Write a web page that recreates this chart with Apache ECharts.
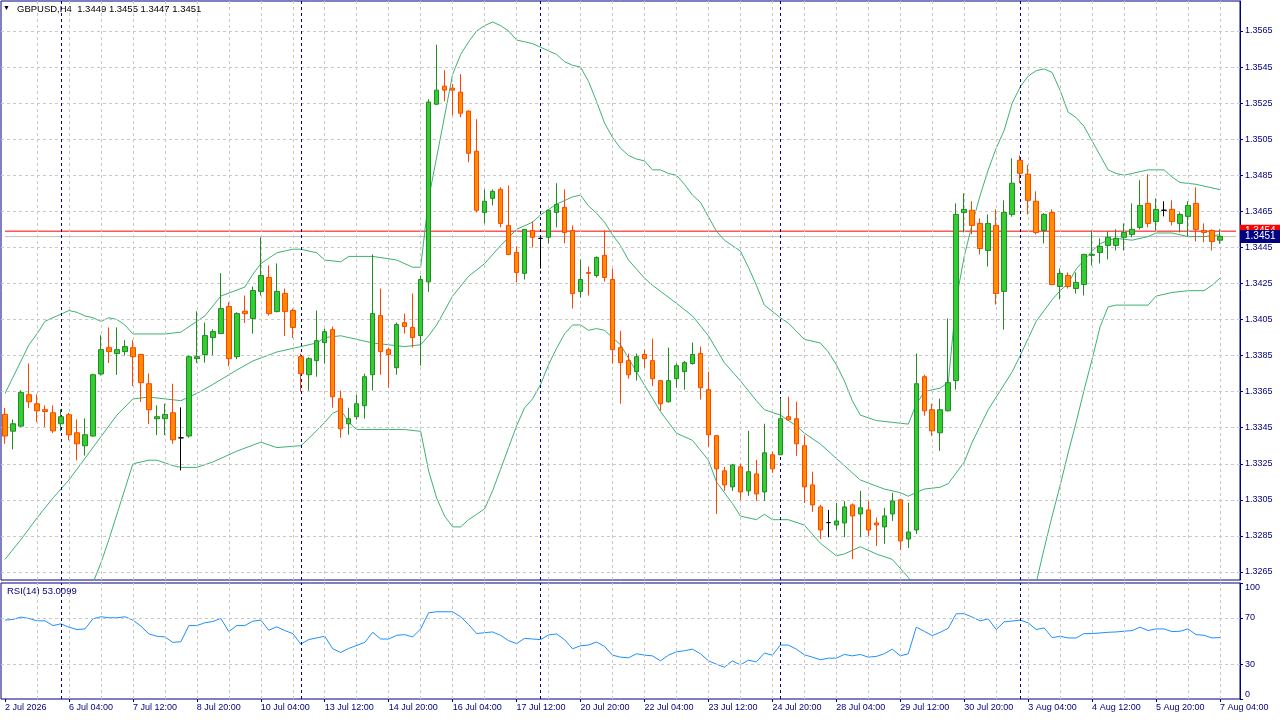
<!DOCTYPE html>
<html>
<head>
<meta charset="utf-8">
<title>GBPUSD,H4</title>
<script src="https://cdn.jsdelivr.net/npm/echarts@6.0.0/dist/echarts.min.js"></script>
<style>
html, body { margin: 0; padding: 0; background: #fff; }
#chart { width: 1280px; height: 720px; }
</style>
</head>
<body>
<div id="chart"></div>
<script>
// GBPUSD H4 bars, 2 Jul 20:00 .. 7 Aug 04:00 (153 bars)
var open = [
1.33524,1.33431,1.33459,1.33633,1.33583,1.33550,1.33533,1.33472,1.33522,1.33422,
1.33350,1.33404,1.33748,1.33894,1.33861,1.33872,1.33894,1.33856,1.33694,1.33500,
1.33500,1.33533,1.33394,1.33404,1.33833,1.33856,1.33950,1.33972,1.34122,1.33844,
1.34096,1.34056,1.34206,1.34283,1.34094,1.34194,1.34100,1.33844,1.33744,1.33822,
1.33922,1.33994,1.33611,1.33472,1.33511,1.33572,1.33744,1.34072,1.33883,1.33783,
1.34033,1.34006,1.33961,1.34259,1.35244,1.35344,1.35333,1.35311,1.35206,1.34983,
1.34644,1.34722,1.34772,1.34572,1.34422,1.34306,1.34544,1.34500,1.34506,1.34644,
1.34672,1.34544,1.34206,1.34311,1.34294,1.34406,1.34272,1.33894,1.33822,1.33761,
1.33856,1.33822,1.33711,1.33594,1.33722,1.33761,1.33806,1.33861,1.33661,1.33406,
1.33211,1.33122,1.33233,1.33100,1.33194,1.33094,1.33300,1.33300,1.33511,1.33500,
1.33350,1.33133,1.33011,1.32924,1.32911,1.32922,1.33022,1.32972,1.32994,1.32922,
1.32900,1.32972,1.33050,1.32833,1.32883,1.33733,1.33550,1.33422,1.33544,1.33711,
1.34644,1.34656,1.34583,1.34433,1.34572,1.34206,1.34633,1.34933,1.34856,1.34706,
1.34544,1.34644,1.34233,1.34294,1.34222,1.34244,1.34406,1.34422,1.34461,1.34461,
1.34506,1.34522,1.34561,1.34694,1.34594,1.34656,1.34661,1.34583,1.34622,1.34694,
1.34544,1.34544,1.34490
];
var high = [
1.33560,1.33496,1.33657,1.33806,1.33635,1.33574,1.33574,1.33552,1.33533,1.33496,
1.33502,1.33750,1.33963,1.34006,1.34006,1.33935,1.33935,1.33860,1.33750,1.33574,
1.33583,1.33694,1.33563,1.33850,1.34096,1.34033,1.33996,1.34307,1.34146,1.34090,
1.34183,1.34233,1.34506,1.34350,1.34361,1.34222,1.34111,1.33861,1.33840,1.34100,
1.34000,1.34011,1.33656,1.33561,1.33633,1.33750,1.34411,1.34222,1.33894,1.34033,
1.34083,1.34194,1.34294,1.35272,1.35574,1.35433,1.35356,1.35411,1.35210,1.35161,
1.34772,1.34772,1.34783,1.34794,1.34456,1.34552,1.34594,1.34506,1.34660,1.34806,
1.34772,1.34572,1.34383,1.34344,1.34400,1.34544,1.34333,1.33987,1.33861,1.33861,
1.33883,1.33944,1.33715,1.33894,1.33806,1.33820,1.33922,1.33900,1.33761,1.33410,
1.33233,1.33250,1.33250,1.33433,1.33272,1.33472,1.33317,1.33611,1.33622,1.33594,
1.33406,1.33206,1.33022,1.32994,1.33033,1.33044,1.33030,1.33100,1.33044,1.32952,
1.33006,1.33089,1.33055,1.33033,1.33861,1.33744,1.33583,1.33611,1.34056,1.34694,
1.34750,1.34706,1.34611,1.34633,1.34661,1.34711,1.34944,1.34960,1.34906,1.34761,
1.34640,1.34661,1.34333,1.34311,1.34311,1.34415,1.34544,1.34500,1.34539,1.34550,
1.34583,1.34694,1.34822,1.34856,1.34722,1.34706,1.34711,1.34644,1.34706,1.34783,
1.34583,1.34550,1.34550
];
var low = [
1.33361,1.33330,1.33454,1.33559,1.33481,1.33454,1.33420,1.33431,1.33380,1.33269,
1.33296,1.33400,1.33740,1.33809,1.33743,1.33850,1.33681,1.33593,1.33470,1.33409,
1.33409,1.33361,1.33213,1.33394,1.33809,1.33811,1.33852,1.33970,1.33791,1.33830,
1.34031,1.33972,1.34183,1.34072,1.34090,1.33959,1.33948,1.33650,1.33656,1.33733,
1.33806,1.33561,1.33394,1.33411,1.33494,1.33500,1.33656,1.33744,1.33672,1.33744,
1.33972,1.33894,1.33794,1.34204,1.35240,1.35261,1.35183,1.35172,1.34922,1.34644,
1.34583,1.34683,1.34561,1.34410,1.34256,1.34272,1.34450,1.34333,1.34472,1.34561,
1.34472,1.34111,1.34172,1.34183,1.34283,1.34261,1.33806,1.33583,1.33722,1.33711,
1.33783,1.33681,1.33544,1.33590,1.33672,1.33661,1.33800,1.33606,1.33344,1.32972,
1.33100,1.33100,1.33050,1.33072,1.33044,1.33044,1.33200,1.33300,1.33489,1.33294,
1.33033,1.32983,1.32833,1.32843,1.32883,1.32843,1.32722,1.32843,1.32850,1.32794,
1.32806,1.32933,1.32772,1.32783,1.32861,1.33517,1.33406,1.33322,1.33540,1.33661,
1.34533,1.34522,1.34411,1.34344,1.34133,1.33994,1.34620,1.34806,1.34633,1.34522,
1.34472,1.34240,1.34161,1.34222,1.34194,1.34183,1.34350,1.34361,1.34383,1.34433,
1.34433,1.34506,1.34550,1.34561,1.34544,1.34622,1.34572,1.34533,1.34511,1.34483,
1.34478,1.34433,1.34470
];
var close = [
1.33404,1.33472,1.33646,1.33594,1.33544,1.33540,1.33433,1.33511,1.33411,1.33361,
1.33411,1.33744,1.33883,1.33872,1.33883,1.33900,1.33844,1.33700,1.33550,1.33511,
1.33524,1.33383,1.33394,1.33844,1.33844,1.33961,1.33983,1.34111,1.33833,1.34083,
1.34083,1.34211,1.34294,1.34083,1.34206,1.34094,1.34006,1.33750,1.33833,1.33933,
1.33983,1.33622,1.33444,1.33500,1.33583,1.33733,1.34083,1.33872,1.33856,1.34022,
1.34011,1.33950,1.34272,1.35256,1.35322,1.35322,1.35322,1.35194,1.34972,1.34656,
1.34706,1.34761,1.34583,1.34411,1.34311,1.34550,1.34506,1.34500,1.34656,1.34689,
1.34533,1.34194,1.34272,1.34306,1.34394,1.34283,1.33883,1.33811,1.33744,1.33844,
1.33833,1.33722,1.33583,1.33711,1.33794,1.33811,1.33856,1.33672,1.33411,1.33222,
1.33133,1.33244,1.33094,1.33206,1.33083,1.33311,1.33222,1.33500,1.33494,1.33361,
1.33122,1.33022,1.32883,1.32924,1.32933,1.33011,1.32961,1.33006,1.32883,1.32911,
1.32961,1.33044,1.32822,1.32872,1.33694,1.33544,1.33433,1.33550,1.33700,1.34633,
1.34661,1.34572,1.34444,1.34583,1.34194,1.34644,1.34806,1.34861,1.34711,1.34533,
1.34633,1.34244,1.34306,1.34233,1.34256,1.34411,1.34411,1.34456,1.34506,1.34500,
1.34533,1.34550,1.34683,1.34583,1.34661,1.34656,1.34594,1.34633,1.34683,1.34550,
1.34533,1.34483,1.34510
];

// Bollinger(20,2): [bar index, price]
var bbUpper = [[0,1.3364],[1,1.3373],[2,1.3382],[3,1.3391],[4,1.3397],[5,1.3404],[6,1.3406],[7,1.3408],[8,1.3410],[9,1.3409],[10,1.3407],[11,1.3406],[12,1.3404],[13,1.3406],[14,1.3405],[15,1.3402],[16,1.3397],[18,1.3397],[20,1.3397],[22,1.3398],[23,1.3401],[24,1.3404],[25,1.3407],[27,1.3418],[30,1.3423],[31,1.3430],[32,1.3436],[33,1.3439],[34,1.3442],[36,1.3444],[37,1.3444],[39,1.3442],[40,1.3438],[42,1.3437],[43,1.3440],[46,1.3440],[49,1.3438],[51,1.3434],[52,1.3434],[53,1.3472],[54,1.3495],[55,1.3518],[56,1.3541],[57,1.3552],[58,1.3559],[59,1.3565],[60,1.3568],[61,1.3570],[62,1.3568],[63,1.3565],[64,1.3560],[65,1.3559],[66,1.3558],[67,1.3556],[68,1.3554],[69,1.3552],[70,1.3548],[71,1.3546],[72,1.3545],[73,1.3537],[74,1.3526],[75,1.3514],[76,1.3506],[77,1.3500],[78,1.3496],[79,1.3494],[80,1.3493],[81,1.3488],[82,1.3488],[83,1.3486],[84,1.3485],[85,1.3480],[86,1.3474],[87,1.3470],[88,1.3462],[89,1.3454],[90,1.3449],[92,1.3443],[93,1.3434],[94,1.3424],[95,1.3413],[97,1.3406],[98,1.3403],[100,1.3394],[102,1.3392],[103,1.3387],[104,1.3380],[105,1.3371],[106,1.3360],[107,1.3352],[109,1.3349],[111,1.3348],[113,1.3347],[114,1.3358],[115,1.3365],[117,1.3367],[118,1.3370],[119,1.3416],[120,1.3440],[121,1.3458],[122,1.3474],[123,1.3488],[124,1.3500],[125,1.3510],[126,1.3525],[127,1.3534],[128,1.3540],[129,1.3543],[130,1.3544],[131,1.3542],[132,1.3532],[133,1.3520],[134,1.3517],[135,1.3512],[136,1.3504],[137,1.3496],[138,1.3488],[139,1.3486],[140,1.3485],[141,1.3486],[142,1.3487],[143,1.3488],[145,1.3488],[146,1.3484],[147,1.3481],[149,1.3480],[152,1.3477]];
var bbMiddle = [[0,1.3272],[2,1.3283],[4,1.3295],[6,1.3306],[8,1.3316],[10,1.3328],[12,1.3340],[14,1.3352],[16,1.3361],[18,1.3362],[20,1.3361],[22,1.3360],[24,1.3364],[26,1.3369],[29,1.3377],[31,1.3382],[34,1.3387],[37,1.3390],[39,1.3392],[40,1.3395],[42,1.3396],[44,1.3394],[46,1.3392],[50,1.3390],[52,1.3391],[53,1.3396],[54,1.3402],[55,1.3410],[56,1.3418],[58,1.3429],[60,1.3436],[62,1.3446],[64,1.3455],[66,1.3459],[67,1.3463],[69,1.3469],[71,1.3473],[72,1.3474],[73,1.3468],[74,1.3464],[75,1.3459],[76,1.3452],[77,1.3446],[78,1.3438],[80,1.3428],[81,1.3424],[84,1.3414],[86,1.3407],[88,1.3396],[90,1.3381],[92,1.3371],[94,1.3360],[95,1.3355],[97,1.3352],[99,1.3346],[100,1.3342],[102,1.3336],[105,1.3324],[107,1.3316],[110,1.3311],[112,1.3309],[113,1.3307],[115,1.3311],[117,1.3312],[118,1.3314],[120,1.3326],[121,1.3337],[123,1.3355],[124,1.3362],[126,1.3376],[127,1.3385],[129,1.3404],[130,1.3410],[131,1.3416],[132,1.3421],[133,1.3425],[134,1.3433],[135,1.3438],[136,1.3443],[137,1.3447],[138,1.3449],[139,1.3450],[141,1.3449],[143,1.3451],[144,1.3453],[146,1.3453],[148,1.3451],[150,1.3451],[152,1.3452]];
var bbLower = [[11,1.3259],[12,1.3270],[13,1.3283],[14,1.3297],[15,1.3311],[16,1.3325],[18,1.3327],[19,1.3327],[21,1.3324],[22,1.3323],[24,1.3323],[26,1.3326],[29,1.3332],[32,1.3337],[34,1.3334],[37,1.3335],[38,1.3339],[40,1.3348],[41,1.3353],[42,1.3355],[43,1.3348],[44,1.3344],[47,1.3344],[50,1.3344],[52,1.3343],[53,1.3321],[54,1.3306],[55,1.3296],[56,1.3290],[57,1.3290],[58,1.3294],[59,1.3297],[60,1.3300],[61,1.3310],[62,1.3322],[63,1.3334],[64,1.3346],[65,1.3356],[66,1.3361],[67,1.3369],[68,1.3380],[69,1.3389],[70,1.3397],[71,1.3402],[72,1.3402],[73,1.3399],[74,1.3400],[75,1.3399],[76,1.3395],[77,1.3391],[79,1.3376],[82,1.3354],[84,1.3342],[86,1.3338],[88,1.3327],[89,1.3315],[91,1.3303],[92,1.3296],[94,1.3294],[95,1.3297],[96,1.3294],[98,1.3294],[100,1.3291],[102,1.3281],[104,1.3274],[105,1.3275],[107,1.3279],[109,1.3275],[111,1.3272],[113,1.3262],[114,1.3256],[120,null],[129,1.3259],[130,1.3278],[131,1.3296],[132,1.3313],[133,1.3331],[134,1.3348],[135,1.3366],[136,1.3383],[137,1.3401],[138,1.3412],[139,1.3413],[141,1.3413],[143,1.3413],[144,1.3418],[146,1.3420],[148,1.3421],[150,1.3421],[151,1.3424],[152,1.3428]];

// RSI(14): [bar index, value]
var rsi = [[0,68.0],[1,68.6],[2,70.6],[3,69.4],[4,67.4],[5,67.4],[6,63.3],[7,64.8],[8,61.9],[9,59.9],[10,60.4],[11,69.1],[12,70.9],[13,70.0],[14,70.0],[15,70.9],[16,68.0],[17,62.8],[18,56.1],[19,54.1],[20,53.5],[21,48.8],[22,49.4],[23,63.3],[24,63.3],[25,65.7],[26,66.8],[27,69.4],[28,58.1],[29,63.3],[30,63.3],[31,67.1],[32,68.0],[33,59.3],[34,62.2],[35,59.0],[36,56.4],[37,47.4],[38,51.2],[40,54.1],[41,43.3],[42,40.1],[43,43.6],[45,48.8],[46,57.5],[47,51.7],[48,51.7],[49,54.9],[50,55.5],[51,53.5],[52,60.4],[53,74.3],[54,75.2],[56,75.2],[57,70.9],[58,64.2],[59,56.4],[60,57.2],[61,57.8],[62,54.9],[63,50.3],[64,47.7],[65,52.3],[66,51.7],[67,51.2],[68,55.2],[69,56.1],[70,51.2],[71,43.3],[72,45.9],[73,46.5],[74,49.1],[75,45.4],[76,37.8],[77,36.1],[78,35.5],[79,39.0],[80,37.8],[81,37.2],[82,32.9],[83,37.8],[84,40.7],[85,41.6],[86,43.0],[87,39.0],[88,32.9],[89,30.0],[90,27.4],[91,32.9],[92,29.4],[93,33.5],[94,32.0],[95,39.6],[96,37.8],[97,46.5],[98,46.5],[99,43.0],[100,38.1],[101,36.1],[102,33.8],[103,35.2],[104,35.2],[105,38.4],[106,37.2],[107,38.4],[108,36.1],[109,36.7],[110,39.0],[111,43.0],[112,37.2],[113,39.0],[114,61.9],[115,58.4],[116,54.6],[117,57.5],[118,61.0],[119,73.5],[120,73.5],[121,70.6],[122,67.4],[123,69.1],[124,59.9],[125,66.5],[127,68.0],[128,65.7],[129,59.9],[130,61.3],[131,52.9],[132,54.1],[133,52.6],[134,52.6],[135,56.4],[136,56.4],[138,57.5],[139,57.8],[141,59.0],[142,61.9],[143,59.0],[144,60.4],[145,60.4],[146,58.1],[147,58.4],[148,60.4],[149,55.5],[150,54.9],[151,52.6],[152,53.0]];

var xTickLabels = ['2 Jul 2026','6 Jul 04:00','7 Jul 12:00','8 Jul 20:00','10 Jul 04:00','13 Jul 12:00','14 Jul 20:00','16 Jul 04:00','17 Jul 12:00','20 Jul 20:00','22 Jul 04:00','23 Jul 12:00','24 Jul 20:00','28 Jul 04:00','29 Jul 12:00','30 Jul 20:00','3 Aug 04:00','4 Aug 12:00','5 Aug 20:00','7 Aug 04:00'];
var priceTicks = [1.3265,1.3285,1.3305,1.3325,1.3345,1.3365,1.3385,1.3405,1.3425,1.3445,1.3465,1.3485,1.3505,1.3525,1.3545,1.3565];
var rsiTicks = [0, 30, 70, 100];
var rsiLevels = [30, 70];
var weekStarts = [7, 37, 67, 97, 127];   // period separators (Mon 00:00)
var askPrice = 1.3454;
var bidPrice = 1.3451;

var NAVY = '#000080';
var GRIDC = '#c8c8c8';
var FONT = 'Liberation Sans';

var nBars = close.length;
var categories = [];
for (var i = 0; i < nBars + 2; i++) categories.push(String(i));   // 2 empty slots on the right

var candles = close.map(function (c, i) { return [open[i], c, low[i], high[i]]; });

var vGrid = [];
for (var j = 4; j < nBars; j += 4) vGrid.push(j);

function vLines(list, style) {
        return list.map(function (k) { return { xAxis: k, lineStyle: style }; });
}
var dashGray = { color: GRIDC, type: [3, 3], width: 1 };
var dashNavy = { color: NAVY, type: [3, 3], width: 1 };

function tickShown(i) { return i % 8 === 0 && i < nBars; }

// horizontal price line across the whole chart with a boxed label on the price scale
function priceLine(name, price, lineColor, boxColor, z) {
        return {
                name: name, type: 'line', xAxisIndex: 0, yAxisIndex: 0, z: z, silent: true,
                data: [[0, price], [categories.length - 1, price]],
                symbol: 'none', color: lineColor,
                lineStyle: { color: lineColor, width: 1, type: 'solid' },
                endLabel: { show: true, formatter: price.toFixed(4), distance: 4,
                            color: '#fff', backgroundColor: boxColor, padding: [2, 5, 1, 5],
                            fontSize: 10, fontFamily: FONT }
        };
}

var last = nBars - 1;
var header = 'GBPUSD,H4  ' + [open[last], high[last], low[last], close[last]].map(function (v) { return v.toFixed(4); }).join(' ');

var chart = echarts.init(document.getElementById('chart'));

var option = {
        animation: false,
        backgroundColor: '#fff',
        textStyle: { fontFamily: FONT },
        grid: [
                { left: 1, right: 40, top: 1, height: 579, show: true, borderColor: NAVY, borderWidth: 1, backgroundColor: 'transparent' },
                { left: 1, right: 40, top: 583, height: 116, show: true, borderColor: NAVY, borderWidth: 1, backgroundColor: 'transparent' }
        ],
        xAxis: [
                { type: 'category', gridIndex: 0, data: categories, boundaryGap: true,
                  axisLine: { show: false }, axisTick: { show: false }, axisLabel: { show: false }, splitLine: { show: false } },
                { type: 'category', gridIndex: 1, data: categories, boundaryGap: true,
                  axisLine: { show: false },
                  axisTick: { show: true, alignWithLabel: true, interval: tickShown, length: 3, lineStyle: { color: NAVY } },
                  axisLabel: { interval: tickShown, formatter: function (v, i) { return xTickLabels[i / 8] || ''; },
                               align: 'left', color: NAVY, fontSize: 9, fontFamily: FONT, margin: 4 },
                  splitLine: { show: false } }
        ],
        yAxis: [
                { type: 'value', gridIndex: 0, position: 'right', min: 1.326056, max: 1.358164,
                  axisLine: { show: true, lineStyle: { color: NAVY } },
                  axisTick: { show: true, customValues: priceTicks, length: 3, lineStyle: { color: NAVY } },
                  axisLabel: { customValues: priceTicks, formatter: function (v) { return v.toFixed(4); },
                               color: NAVY, fontSize: 9, fontFamily: FONT, margin: 5 },
                  splitLine: { show: false } },
                { type: 'value', gridIndex: 1, position: 'right', min: 0, max: 100,
                  axisLine: { show: true, lineStyle: { color: NAVY } },
                  axisTick: { show: true, customValues: rsiTicks, length: 3, lineStyle: { color: NAVY } },
                  axisLabel: { customValues: rsiTicks, color: NAVY, fontSize: 9, fontFamily: FONT, margin: 5,
                               verticalAlignMaxLabel: 'top', verticalAlignMinLabel: 'bottom' },
                  splitLine: { show: false } }
        ],
        graphic: [
                { type: 'text', left: 3, top: 5, style: { text: '\u25BC', fontSize: 7, fill: '#000' } },
                { type: 'text', left: 17, top: 4, style: { text: header, fontSize: 9.5, fontFamily: FONT, fill: '#000' } },
                { type: 'text', left: 7, top: 586, style: { text: 'RSI(14) 53.0099', fontSize: 9.5, fontFamily: FONT, fill: NAVY } }
        ],
        series: [
                // price grid lines + period separators
                { type: 'line', xAxisIndex: 0, yAxisIndex: 0, data: [], z: 1, silent: true,
                  markLine: { silent: true, precision: 5, symbol: ['none', 'none'], label: { show: false },
                              lineStyle: dashGray,
                              data: priceTicks.map(function (v) { return { yAxis: v }; })
                                      .concat(vLines(vGrid, dashGray))
                                      .concat(vLines(weekStarts, dashNavy)) } },
                // ask (red) and bid (grey) lines
                priceLine('Ask', askPrice, '#ff0000', '#ff0000', 2),
                priceLine('Bid', bidPrice, '#c0c0c0', NAVY, 2),
                { name: 'BB upper', type: 'line', xAxisIndex: 0, yAxisIndex: 0, data: bbUpper, symbol: 'none', z: 3,
                  lineStyle: { color: '#3cb371', width: 1 }, silent: true },
                { name: 'BB middle', type: 'line', xAxisIndex: 0, yAxisIndex: 0, data: bbMiddle, symbol: 'none', z: 3,
                  lineStyle: { color: '#3cb371', width: 1 }, silent: true },
                { name: 'BB lower', type: 'line', xAxisIndex: 0, yAxisIndex: 0, data: bbLower, symbol: 'none', z: 3,
                  lineStyle: { color: '#3cb371', width: 1 }, silent: true },
                { name: 'GBPUSD', type: 'candlestick', xAxisIndex: 0, yAxisIndex: 0, data: candles, barWidth: 5, z: 5,
                  itemStyle: { color: '#32cd32', color0: '#ff8c00', borderColor: '#228b22', borderColor0: '#ff4500',
                               borderColorDoji: '#000000', borderWidth: 1 } },
                // RSI grid lines + separators
                { type: 'line', xAxisIndex: 1, yAxisIndex: 1, data: [], z: 1, silent: true,
                  markLine: { silent: true, precision: 2, symbol: ['none', 'none'], label: { show: false },
                              lineStyle: dashGray,
                              data: rsiLevels.map(function (v) { return { yAxis: v }; })
                                      .concat(vLines(vGrid, dashGray))
                                      .concat(vLines(weekStarts, dashNavy)) } },
                { name: 'RSI(14)', type: 'line', xAxisIndex: 1, yAxisIndex: 1, data: rsi, symbol: 'none', z: 3,
                  lineStyle: { color: '#1e90ff', width: 1 }, silent: true }
        ]
};
chart.setOption(option);
</script>
</body>
</html>
